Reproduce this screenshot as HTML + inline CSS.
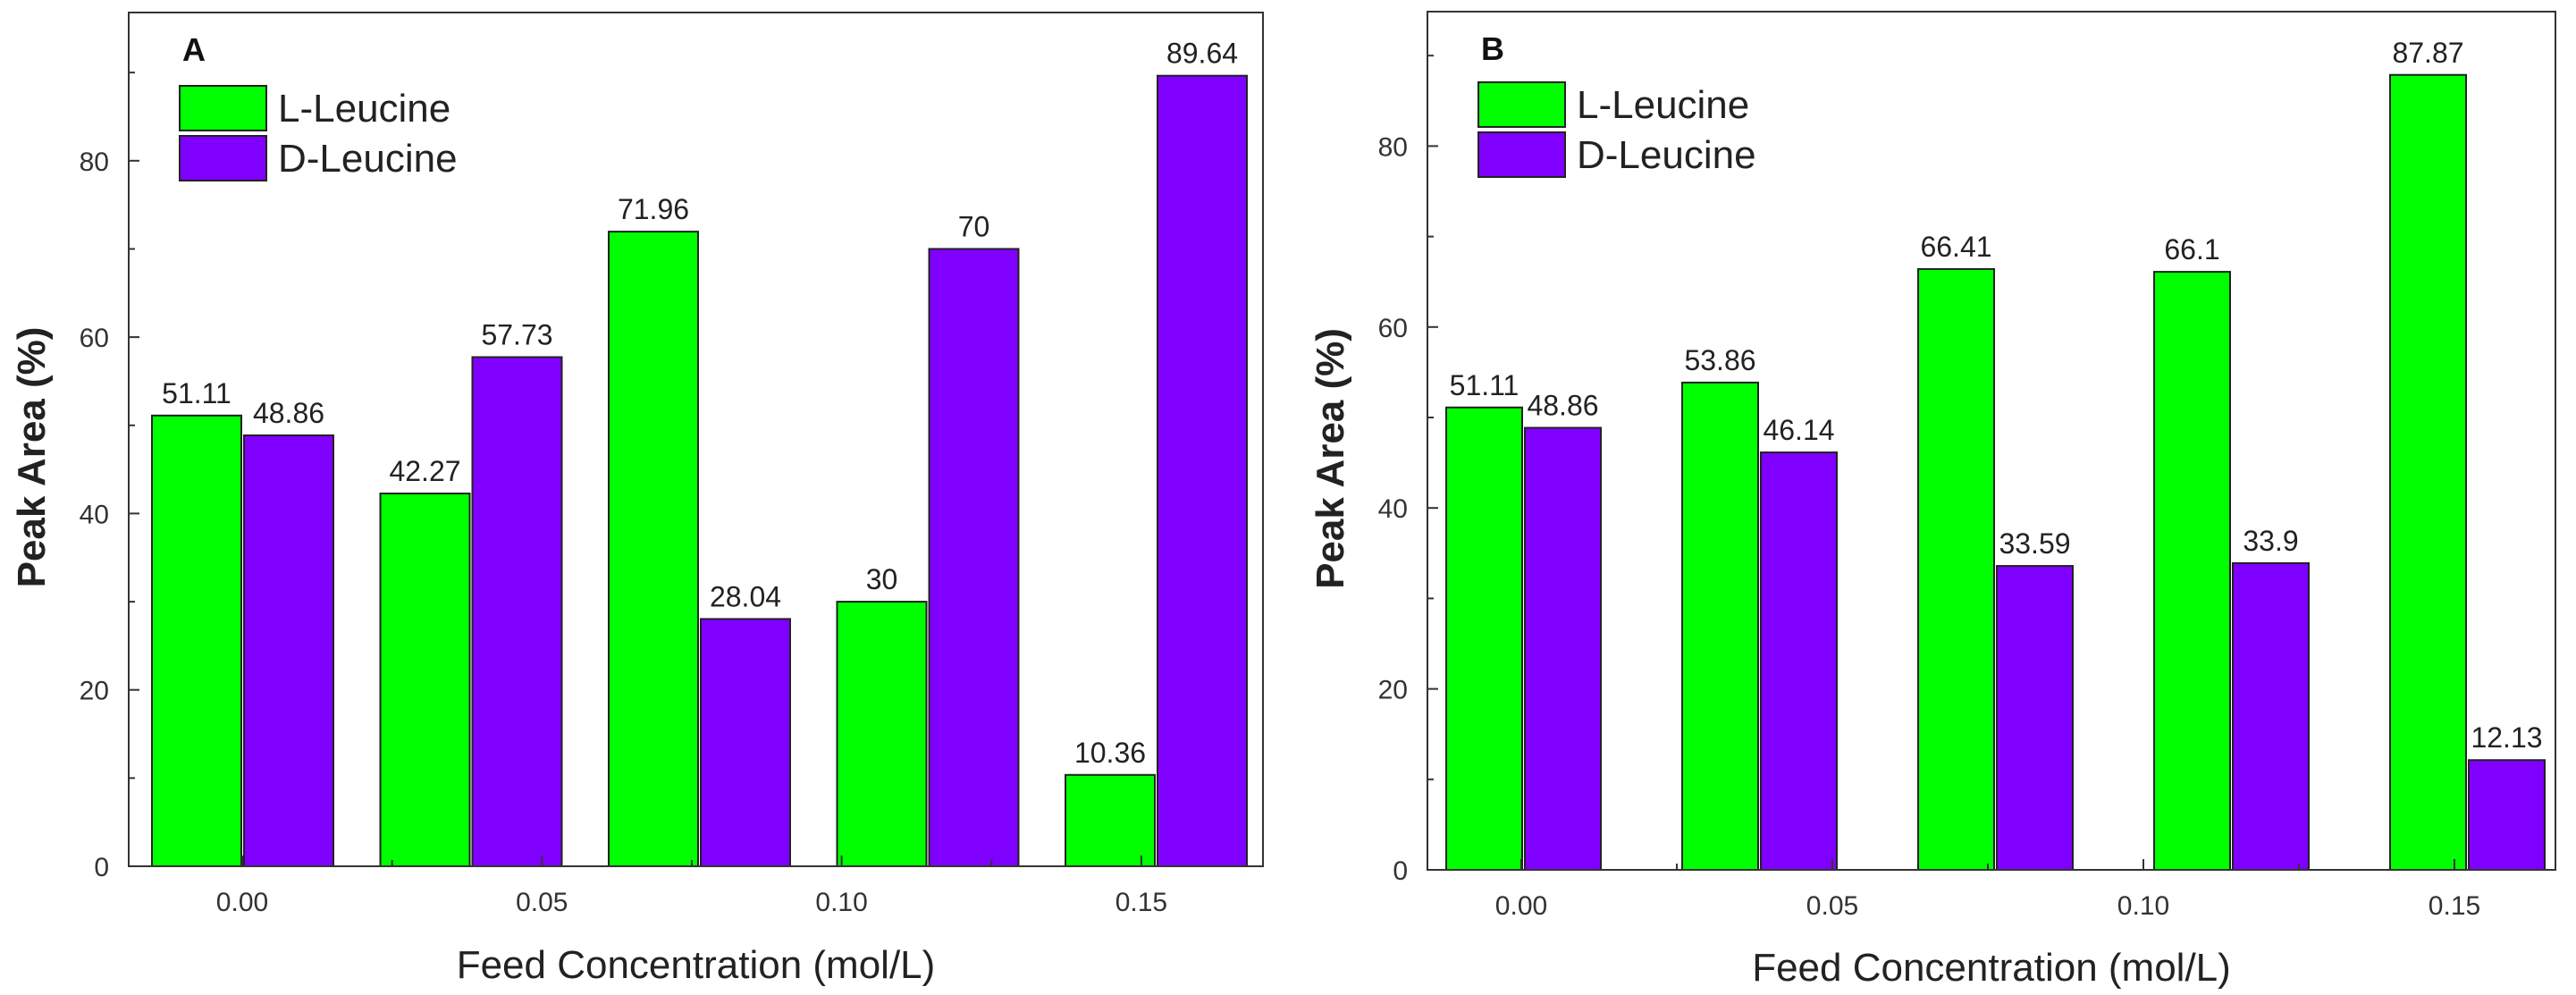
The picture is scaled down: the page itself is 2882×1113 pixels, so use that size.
<!DOCTYPE html>
<html><head><meta charset="utf-8"><style>
html,body{margin:0;padding:0;background:#fff;}
svg{display:block;font-family:"Liberation Sans",sans-serif;}
</style></head><body>
<svg id="fig" width="2882" height="1113" viewBox="0 0 2882 1113" xmlns="http://www.w3.org/2000/svg"></svg>
<script>
const categories = ["0.00","0.05","0.10","0.15","0.20"];
const seriesNames = ["L-Leucine","D-Leucine"];
const aL = [51.11, 42.27, 71.96, 30, 10.36];
const aD = [48.86, 57.73, 28.04, 70, 89.64];
const aLabelsL = ["51.11","42.27","71.96","30","10.36"];
const aLabelsD = ["48.86","57.73","28.04","70","89.64"];
const bL = [51.11, 53.86, 66.41, 66.1, 87.87];
const bD = [48.86, 46.14, 33.59, 33.9, 12.13];
const bLabelsL = ["51.11","53.86","66.41","66.1","87.87"];
const bLabelsD = ["48.86","46.14","33.59","33.9","12.13"];
const yTicks = [0,20,40,60,80];
const xTickLabels = ["0.00","0.05","0.10","0.15"];
const colors = ["#00ff00","#8000ff"];
const NS = "http://www.w3.org/2000/svg";
const svg = document.getElementById('fig');
function mk(tag, attrs, parent, text){
  const e = document.createElementNS(NS, tag);
  for (const k in attrs) e.setAttribute(k, attrs[k]);
  if (text !== undefined) e.textContent = text;
  (parent||svg).appendChild(e);
  return e;
}
function panel(cfg){
  const g = mk('g', {});
  
  
  const y = v => cfg.y0 - v * cfg.pxPer;
  const xc = i => cfg.c0 + i * cfg.cs;
  for (let i = 0; i < cfg.L.length; i++){
    const vals = [cfg.L[i], cfg.D[i]];
    const labs = [cfg.labL[i], cfg.labD[i]];
    for (let s = 0; s < 2; s++){
      const x = s === 0 ? xc(i) - cfg.bw - 1 : xc(i) + 2;
      const r = mk('rect', {x: x, y: y(vals[s]), width: cfg.bw, height: cfg.y0 - y(vals[s]), fill: colors[s], stroke: '#222', 'stroke-width': 2}, g);
      
      
      const t = mk('text', {x: x + cfg.bw/2, y: y(vals[s]) - 14, 'text-anchor': 'middle', 'font-size': 32, fill: '#222'}, g, labs[s]);
      
      
    }
  }
  const f = mk('rect', {x: cfg.left, y: cfg.top, width: cfg.right - cfg.left, height: cfg.y0 - cfg.top, fill: 'none', stroke: '#333', 'stroke-width': 2}, g);
  
  
  for (let v = 0; v <= 90; v += 10){
    const major = v % 20 === 0;
    mk('line', {x1: cfg.left, x2: cfg.left + (major ? 12 : 7), y1: y(v), y2: y(v), stroke: '#333', 'stroke-width': 2}, g);
  }
  yTicks.forEach(v => {
    const t = mk('text', {x: cfg.left - 22, y: y(v) + 11, 'text-anchor': 'end', 'font-size': 30, fill: '#333'}, g, String(v));
    
    
  });
  xTickLabels.forEach((lab, i) => {
    const x = cfg.t0 + i * cfg.ts;
    mk('line', {x1: x, x2: x, y1: cfg.y0, y2: cfg.y0 - 12, stroke: '#333', 'stroke-width': 2}, g);
    if (i < 3) mk('line', {x1: x + cfg.ts/2, x2: x + cfg.ts/2, y1: cfg.y0, y2: cfg.y0 - 7, stroke: '#333', 'stroke-width': 2}, g);
    const t = mk('text', {x: x, y: cfg.y0 + 50, 'text-anchor': 'middle', 'font-size': 30, fill: '#333'}, g, lab);
    
    
  });
  const xt = mk('text', {x: (cfg.left + cfg.right)/2, y: cfg.xTitleY, 'text-anchor': 'middle', 'font-size': 44, fill: '#222'}, g, 'Feed Concentration (mol/L)');
  
  
  const yt = mk('text', {x: 0, y: 0, 'text-anchor': 'middle', 'font-size': 44, 'font-weight': 'bold', fill: '#222', transform: 'translate(' + cfg.yTitleX + ',' + ((cfg.top + cfg.y0)/2 + 20) + ') rotate(-90)'}, g, 'Peak Area (%)');
  
  
  const pl = mk('text', {x: cfg.left + 60, y: cfg.top + 54, 'font-size': 36, 'font-weight': 'bold', fill: '#111'}, g, cfg.letter);
  
  
  for (let s = 0; s < 2; s++){
    const ly = cfg.legY + s * 56;
    const lr = mk('rect', {x: cfg.left + 57, y: ly, width: 97, height: 50, fill: colors[s], stroke: '#222', 'stroke-width': 2}, g);
    
    
    const lt = mk('text', {x: cfg.left + 167, y: ly + 40, 'font-size': 44, fill: '#222'}, g, seriesNames[s]);
    
    
  }
}
panel({name:'chart-a', letter:'A', L:aL, D:aD, labL:aLabelsL, labD:aLabelsD,
  left:144, right:1413, top:14, y0:969, pxPer:9.865, c0:271, cs:255.5, bw:100,
  t0:271, ts:335.3, xTitleY:1094, yTitleX:50, legY:96});
panel({name:'chart-b', letter:'B', L:bL, D:bD, labL:bLabelsL, labD:bLabelsD,
  left:1597, right:2859, top:13, y0:973, pxPer:10.12, c0:1704, cs:264, bw:85,
  t0:1702, ts:348, xTitleY:1097, yTitleX:1503, legY:92});
</script>
</body></html>
